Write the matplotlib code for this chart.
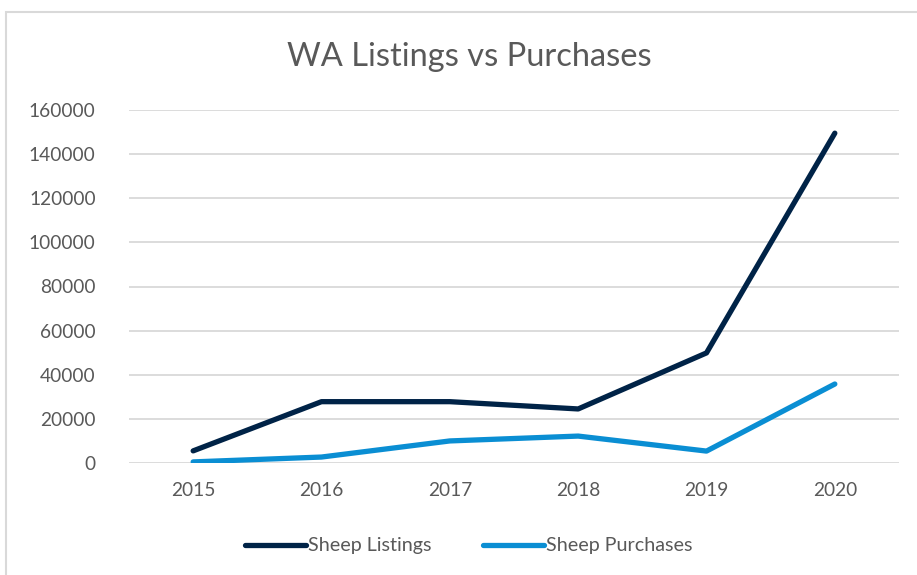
import matplotlib.pyplot as plt
from matplotlib.patches import Rectangle

years = ["2015", "2016", "2017", "2018", "2019", "2020"]
listings = [5500, 27800, 27800, 24500, 49900, 149500]
purchases = [500, 2700, 10000, 12200, 5400, 35800]
y_ticks = [0, 20000, 40000, 60000, 80000, 100000, 120000, 140000, 160000]

plt.rcParams['font.family'] = ['Lato', 'DejaVu Sans']
text_col = '#595959'

fig = plt.figure(figsize=(9.17, 5.75), dpi=100)
ax = fig.add_axes([129 / 917, 1 - 463 / 575, (899 - 129) / 917, (463 - 110) / 575])

x = range(len(years))
ax.plot(x, listings, color='#002347', lw=3.8, solid_capstyle='round',
        solid_joinstyle='round', label="Sheep Listings")
ax.plot(x, purchases, color='#0a8ed3', lw=3.8, solid_capstyle='round',
        solid_joinstyle='round', label="Sheep Purchases")

ax.set_xlim(-0.5, len(years) - 0.5)
ax.set_ylim(0, 160000)
ax.set_yticks(y_ticks)
ax.set_yticklabels([str(v) for v in y_ticks])
ax.set_xticks(list(x))
ax.set_xticklabels(years)
ax.grid(axis='y', color='#d9d9d9', lw=1.3)
ax.set_axisbelow(True)
for s in ax.spines.values():
    s.set_visible(False)
ax.tick_params(length=0, labelsize=13.8, labelcolor=text_col)
ax.tick_params(axis='y', pad=24)
ax.tick_params(axis='x', pad=14)

fig.text(469 / 917, 1 - 57 / 575, "WA Listings vs Purchases", ha='center', va='center',
         fontsize=23.5, color=text_col)

leg = fig.legend(loc='center', bbox_to_anchor=(469 / 917, 1 - 546 / 575), ncol=2,
                 frameon=False, fontsize=14.2, handlelength=3.1, handletextpad=0.1,
                 columnspacing=2.6)
for t in leg.get_texts():
    t.set_color(text_col)

# chart area border
fig.patches.append(Rectangle((6 / 917, -0.1), 1.2, 1 - 12 / 575 + 0.1, transform=fig.transFigure,
                             fill=False, edgecolor='#d9d9d9', lw=1.5))

fig.savefig("out.png", dpi=100)
